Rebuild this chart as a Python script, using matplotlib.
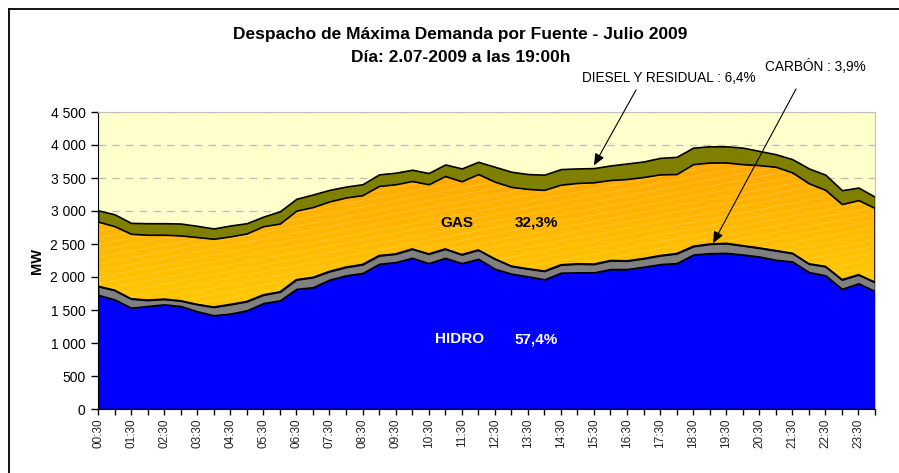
import numpy as np
import matplotlib
matplotlib.use("Agg")
import matplotlib.pyplot as plt
from matplotlib.lines import Line2D
from matplotlib.ticker import FuncFormatter, MultipleLocator

plt.rcParams['font.family'] = ['Liberation Sans', 'DejaVu Sans']

times = ["00:30", "01:00", "01:30", "02:00", "02:30", "03:00", "03:30", "04:00",
         "04:30", "05:00", "05:30", "06:00", "06:30", "07:00", "07:30", "08:00",
         "08:30", "09:00", "09:30", "10:00", "10:30", "11:00", "11:30", "12:00",
         "12:30", "13:00", "13:30", "14:00", "14:30", "15:00", "15:30", "16:00",
         "16:30", "17:00", "17:30", "18:00", "18:30", "19:00", "19:30", "20:00",
         "20:30", "21:00", "21:30", "22:00", "22:30", "23:00", "23:30", "24:00"]

hidro = [1730, 1660, 1535, 1560, 1585, 1560, 1480, 1420, 1445, 1495,
         1605, 1645, 1820, 1845, 1960, 2025, 2060, 2200, 2225, 2290,
         2210, 2290, 2210, 2275, 2125, 2050, 2010, 1965, 2065, 2070,
         2070, 2120, 2120, 2155, 2195, 2210, 2340, 2360, 2365, 2340,
         2310, 2260, 2235, 2075, 2025, 1820, 1905, 1785]
carbon = [130, 140, 135, 90, 80, 80, 105, 125, 140, 135,
          125, 130, 140, 150, 125, 125, 130, 125, 125, 135,
          140, 135, 130, 135, 150, 115, 115, 125, 120, 130,
          125, 130, 125, 125, 130, 145, 125, 140, 145, 135,
          130, 140, 125, 125, 135, 140, 130, 135]
gas = [980, 970, 985, 990, 975, 990, 1020, 1035, 1030, 1030,
       1040, 1035, 1045, 1065, 1060, 1055, 1050, 1055, 1055, 1030,
       1055, 1105, 1110, 1150, 1170, 1200, 1210, 1230, 1215, 1225,
       1240, 1220, 1240, 1235, 1230, 1205, 1245, 1235, 1225, 1235,
       1255, 1270, 1225, 1220, 1160, 1145, 1130, 1125]
diesel = [170, 180, 165, 175, 175, 180, 170, 155, 165, 155,
          145, 185, 180, 190, 175, 165, 165, 175, 175, 170,
          170, 175, 195, 185, 225, 230, 225, 230, 235, 220,
          215, 220, 235, 235, 250, 260, 250, 245, 245, 250,
          215, 190, 200, 225, 230, 210, 190, 170]

title1 = "Despacho de Máxima Demanda por Fuente - Julio 2009"
title2 = "Día: 2.07-2009 a las 19:00h"
lbl_gas = ("GAS", "32,3%")
lbl_hidro = ("HIDRO", "57,4%")
lbl_diesel = "DIESEL Y RESIDUAL : 6,4%"
lbl_carbon = "CARBÓN : 3,9%"

W, H = 899, 473
fig = plt.figure(figsize=(W / 100, H / 100), dpi=100)
fig.patch.set_facecolor('white')
ax = fig.add_axes([98 / W, 1 - 409 / H, (875 - 98) / W, (409 - 112) / H])
ax.set_facecolor('#FFFFCC')

x = np.arange(len(times))
polys = ax.stackplot(x, hidro, carbon, gas, diesel,
                     colors=['#0000FF', '#808080', '#FFB000', '#808000'],
                     edgecolor='black', linewidth=1.2, zorder=2)
gas_poly = polys[2]
gas_poly.set_facecolor('none')

# gradient fill for the gas layer
ny, nx = 300, 300
yy, xx = np.mgrid[0:1:ny * 1j, 0:1:nx * 1j]
t = np.clip((yy * 4500 - 1700) / 2100, 0, 1)  # 0 bottom -> 1 top
t = np.clip(t * 0.85 + (1 - xx) * 0.15, 0, 1)
c_bot = np.array([1.0, 0.80, 0.0])
c_top = np.array([1.0, 0.64, 0.0])
img = c_bot[None, None, :] * (1 - t[..., None]) + c_top[None, None, :] * t[..., None]
im = ax.imshow(img, extent=[0, len(times) - 1, 0, 4500], origin='lower',
               aspect='auto', zorder=1.5, interpolation='bilinear')
gpath = gas_poly.get_paths()[0]
im.set_clip_path(gpath, transform=ax.transData)

# faint texture lines over the gas layer
for c in np.arange(-0.7, 1.0, 0.022):
    ln = Line2D([0, 1], [c, c + 0.5], transform=ax.transAxes, color='white',
                alpha=0.22, lw=0.6, zorder=1.6)
    ax.add_line(ln)
    ln.set_clip_path(gpath, transform=ax.transData)

ax.set_xlim(0, len(times) - 1)
ax.set_ylim(0, 4500)
ax.yaxis.set_major_locator(MultipleLocator(500))
ax.yaxis.set_major_formatter(FuncFormatter(lambda v, _: f"{int(v):,}".replace(',', ' ')))
ax.set_xticks(x)
ax.set_xticklabels([lab if i % 2 == 0 else "" for i, lab in enumerate(times)],
                   rotation=90, fontsize=8.5, color='#222222')
ax.tick_params(axis='x', length=4, width=1, pad=3, direction='out')
ax.tick_params(axis='y', length=5, width=1, pad=4, labelsize=10, direction='out')

ax.set_axisbelow(True)
ax.yaxis.grid(True, color='#BBBBBB', linestyle=(0, (6, 5)), linewidth=0.9)
for s in ['top', 'right']:
    ax.spines[s].set_color('#C0C0C0')
for s in ['left', 'bottom']:
    ax.spines[s].set_color('black')

ax.set_ylabel("MW", fontsize=10.5, fontweight='bold', labelpad=5)

ax.text(21.7, 2825, lbl_gas[0], fontsize=11, fontweight='bold', ha='center', va='center', zorder=5)
ax.text(26.5, 2825, lbl_gas[1], fontsize=11, fontweight='bold', ha='center', va='center', zorder=5)
ax.text(21.9, 1057, lbl_hidro[0], fontsize=11, fontweight='bold', ha='center', va='center', color='white', zorder=5)
ax.text(26.5, 1057, lbl_hidro[1], fontsize=11, fontweight='bold', ha='center', va='center', color='white', zorder=5)

fig.text(460 / W, 1 - 34 / H, title1, ha='center', va='center', fontsize=12.5, fontweight='bold')
fig.text(461 / W, 1 - 57 / H, title2, ha='center', va='center', fontsize=12.5, fontweight='bold')

fig.text(669 / W, 1 - 77.5 / H, lbl_diesel, ha='center', va='center', fontsize=9.8)
fig.text(815 / W, 1 - 66.5 / H, lbl_carbon, ha='center', va='center', fontsize=9.8)

arrow_kw = dict(arrowstyle='-|>,head_length=0.7,head_width=0.3', color='black', lw=0.8,
                shrinkA=0, shrinkB=0)
ax.annotate("", xy=(30.0, 3690), xycoords='data', xytext=(636, H - 90),
            textcoords='figure pixels', arrowprops=arrow_kw, zorder=6)
ax.annotate("", xy=(37.2, 2510), xycoords='data', xytext=(796, H - 89),
            textcoords='figure pixels', arrowprops=arrow_kw, zorder=6)

# outer chart border (top and left)
fig.add_artist(Line2D([8.5 / W, 1], [1 - 9 / H, 1 - 9 / H], transform=fig.transFigure, color='black', lw=1.3))
fig.add_artist(Line2D([8.5 / W, 8.5 / W], [0, 1 - 9 / H], transform=fig.transFigure, color='black', lw=1.3))

fig.savefig("out.png", dpi=100)
